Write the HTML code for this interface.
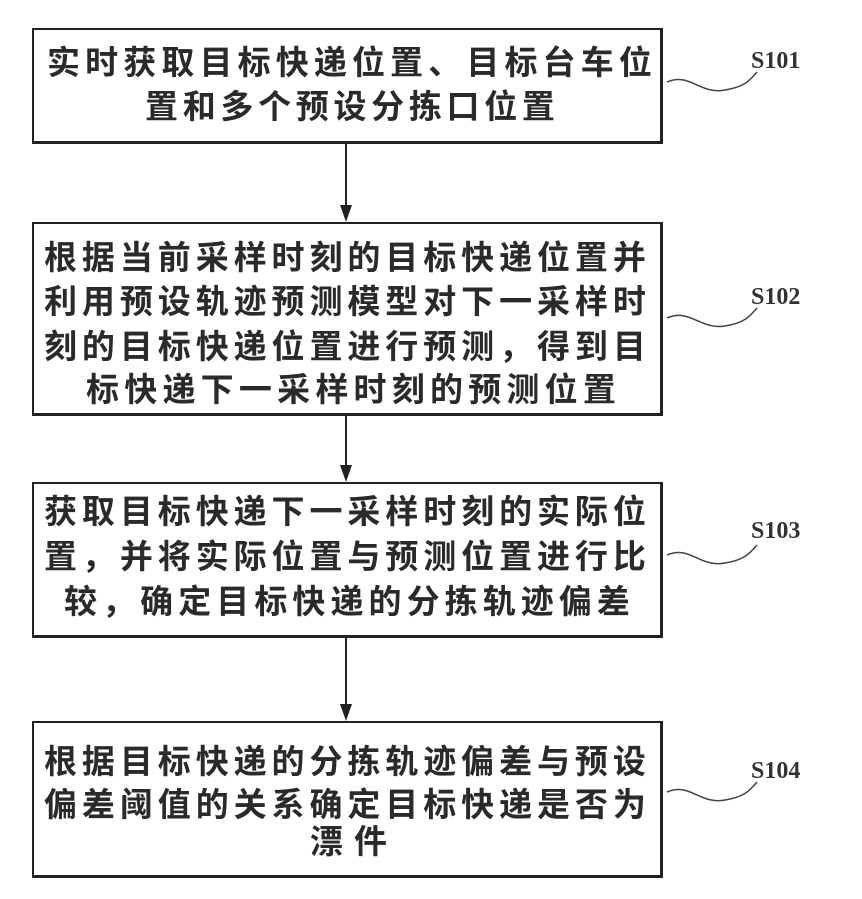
<!DOCTYPE html>
<html><head><meta charset="utf-8">
<style>
body{margin:0;background:#fff;}
#c{position:relative;width:862px;height:899px;overflow:hidden;background:#fff;}
.box{position:absolute;left:32px;width:631px;border:2px solid #222;border-bottom-width:3px;border-right-width:3px;box-sizing:border-box;}
.ln{position:absolute;display:flex;justify-content:space-between;font-family:"Liberation Sans","Noto Sans CJK SC",sans-serif;font-size:33px;font-weight:bold;color:#2a2a2a;height:40px;line-height:40px;}
.ln span{display:inline-block;width:33px;text-align:center;}
.lab{position:absolute;font-family:"Liberation Serif",serif;font-size:24px;font-weight:bold;color:#333;}
</style></head><body><div id="c">
<div class="box" style="top:28px;height:116px"></div>
<div class="box" style="top:222px;height:194px"></div>
<div class="box" style="top:482px;height:156px"></div>
<div class="box" style="top:721px;height:157px"></div>
<svg width="862" height="899" style="position:absolute;left:0;top:0">
<g stroke="#222" stroke-width="2" fill="none">
<line x1="346" y1="144" x2="346" y2="212"/>
<line x1="346" y1="416" x2="346" y2="472"/>
<line x1="346" y1="638" x2="346" y2="711"/>
</g>
<g fill="#222">
<path d="M340,205 L352,205 L346,222 Z"/>
<path d="M340,465 L352,465 L346,482 Z"/>
<path d="M340,704 L352,704 L346,721 Z"/>
</g>
<g stroke="#444" stroke-width="1.5" fill="none">
<path d="M667,82 C690,72 700,95 725,90 C745,87 750,80 757,72"/>
<path d="M667,318 C690,308 700,330 725,326 C745,323 750,316 757,308"/>
<path d="M667,555 C690,545 700,568 725,563 C745,560 750,553 757,545"/>
<path d="M667,792 C690,782 700,805 725,800 C745,797 750,790 757,782"/>
</g>
</svg>
<div class="lab" style="left:751px;top:48px">S101</div>
<div class="lab" style="left:751px;top:284px">S102</div>
<div class="lab" style="left:751px;top:518px">S103</div>
<div class="lab" style="left:751px;top:758px">S104</div>
<div class="ln" data-l="47,652,63">实时获取目标快递位置、目标台车位</div>
<div class="ln" data-l="145,555,107">置和多个预设分拣口位置</div>
<div class="ln" data-l="44,646,258">根据当前采样时刻的目标快递位置并</div>
<div class="ln" data-l="44,646,302">利用预设轨迹预测模型对下一采样时</div>
<div class="ln" data-l="44,646,347">刻的目标快递位置进行预测，得到目</div>
<div class="ln" data-l="86,616,390">标快递下一采样时刻的预测位置</div>
<div class="ln" data-l="44,646,512">获取目标快递下一采样时刻的实际位</div>
<div class="ln" data-l="44,646,557">置，并将实际位置与预测位置进行比</div>
<div class="ln" data-l="64,630,602">较，确定目标快递的分拣轨迹偏差</div>
<div class="ln" data-l="44,646,762">根据目标快递的分拣轨迹偏差与预设</div>
<div class="ln" data-l="44,646,805">偏差阈值的关系确定目标快递是否为</div>
<div class="ln" data-l="310,387,842">漂件</div>
</div>
<script>
document.querySelectorAll('.ln').forEach(function(e){
var p=e.getAttribute('data-l').split(',').map(Number);
var t=e.textContent;e.textContent='';
for(var i=0;i<t.length;i++){var s=document.createElement('span');s.textContent=t[i];e.appendChild(s);}
e.style.left=p[0]+'px';e.style.width=(p[1]-p[0])+'px';e.style.top=(p[2]-20)+'px';
});
</script>
</body></html>
